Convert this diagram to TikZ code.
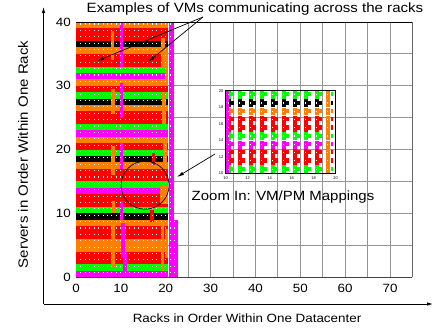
\documentclass[tikz,border=0pt]{standalone}
\usepackage{fontspec}
\setmainfont{Liberation Sans}
\usetikzlibrary{arrows.meta}
\definecolor{vmorange}{RGB}{255,128,0}
\definecolor{vmred}{RGB}{255,0,0}
\definecolor{vmgreen}{RGB}{0,255,0}
\definecolor{vmpink}{RGB}{255,0,255}
\definecolor{vmblack}{RGB}{0,0,0}
\newcommand{\fsz}[1]{\fontsize{#1}{#1}\selectfont}

\begin{document}
\begin{tikzpicture}[x=1bp,y=1bp,every node/.style={inner sep=0pt},lbl/.style={xscale=1.12},
  grid/.style={draw=black!42,line width=0.8bp},
  axis/.style={line width=0.8bp,-{Latex[length=6bp,width=3.5bp]}},
  pointer/.style={line width=0.7bp,-{Latex[length=7bp,width=3.5bp]}}]
  \useasboundingbox (0,0) rectangle (437,330);
  \begin{scope}[shift={(76,53)},x=4.486bp,y=6.375bp]
    \foreach \x in {5,10,...,70} \draw[grid] (\x,0) -- (\x,40);
    \foreach \y in {5,10,...,35} \draw[grid] (0,\y) -- (75,\y);
    \draw[black!75,line width=0.8bp] (0,0) -- (75,0);
    \draw[black!60,line width=0.9bp] (75,0) -- (75,40);
    \foreach \c [count=\r from 0] in {vmpink,vmgreen,vmred,vmred,vmorange,vmorange,vmred,vmred,vmorange,vmblack,
      vmgreen,vmred,vmred,vmpink,vmgreen,vmred,vmred,vmorange,vmblack,vmgreen,
      vmred,vmorange,vmpink,vmgreen,vmred,vmred,vmorange,vmblack,vmgreen,vmred,
      vmorange,vmpink,vmgreen,vmred,vmred,vmorange,vmblack,vmred,vmred,vmorange}
      \fill[\c] (0,\r) rectangle (20.6,\r+1);
    \fill[vmpink] (20.7,0) rectangle (21.9,40);
    \fill[vmpink] (21.9,0) rectangle (22.7,9);
    \foreach \a/\b/\e/\d in {9.7/33/10.4/40,9.7/25/10.4/30.5,9.7/17/10.4/21,9.8/9/10.4/12,10/3/10.9/8.5,10.4/0/11.4/4}
      \fill[vmpink] (\a,\b) rectangle (\e,\d);
    \foreach \a/\b/\e/\d in {7.7/34/8.5/38.6,19/33/19.8/37.5,19.9/30/20.6/35,7.8/25.5/8.6/29.5,19.2/24/20/29,
      7.9/16/8.7/20.5,19.3/17/20.3/21,7.9/1.5/8.7/8,19/1/19.7/9,19.9/3/20.6/7.5,18.8/11.5/20.6/14.5,8/10/8.6/12}
      \fill[vmorange] (\a,\b) rectangle (\e,\d);
    \foreach \a/\b/\e/\d in {16.9/17.6/17.6/19.5,16.6/8.6/17.3/10.5}
      \fill[vmred] (\a,\b) rectangle (\e,\d);
    \foreach \r in {0,...,39} \foreach \x in {1,...,22}
      \fill[white] (\x-0.09,\r+0.6) rectangle (\x+0.09,\r+0.78);
    \draw[black,line width=0.9bp] (0,40) -- (75,40);
    \node[circle,draw,line width=0.7bp,minimum size=48bp] (lens) at (15.4,14.4) {};
    \foreach \v in {0,10,...,70} \node[lbl,font=\fsz{12}] (xt\v) at (\v,-1.73) {\v};
    \foreach \v in {0,10,...,40} \node[lbl,font=\fsz{12},anchor=east] (yt\v) at (-1.1,\v) {\v};
  \end{scope}
  \begin{scope}[shift={(115.7,74.1)},x=11bp,y=8.26bp]
    \foreach \c [count=\r from 10] in {vmgreen,vmred,vmred,vmpink,vmgreen,vmred,vmred,vmorange,vmblack,vmgreen} {
      \foreach \i in {10,...,18} {
        \fill[\c] (\i+0.12,\r) rectangle (\i+0.48,\r+0.95);
        \fill[\c] (\i+0.5,\r+0.3) rectangle (\i+0.72,\r+0.8);
      }
      \fill[vmorange] (19.1,\r) rectangle (19.48,\r+0.95);
      \fill[\c] (19.55,\r+0.3) rectangle (19.75,\r+0.8);
    }
    \fill[vmpink] (10.05,10) rectangle (10.3,20);
    \foreach \i in {10,...,19} \foreach \r in {10,...,19}
      \fill[white] (\i+0.24,\r+0.45) rectangle (\i+0.31,\r+0.58);
    \draw[line width=0.6bp] (10,10) rectangle (20,20);
    \foreach \v in {10,12,...,20} \node[font=\fsz{4}] (ix\v) at (\v,9.45) {\v};
    \foreach \v in {10,12,...,20} \node[font=\fsz{4},anchor=east] (iy\v) at (9.8,\v) {\v};
  \end{scope}
  \coordinate (orig) at (43.5,26);
  \coordinate (ytop) at (43.5,323);
  \coordinate (xend) at (433,26);
  \draw[axis] (orig) -- (ytop);
  \draw[axis] (orig) -- (xend);
  \node[lbl,font=\fsz{13.5},anchor=base] (title) at (255,318) {Examples of VMs communicating across the racks};
  \node[lbl,font=\fsz{12},anchor=base] (xlabel) at (247,8) {Racks in Order Within One Datacenter};
  \node[rotate=90,lbl,font=\fsz{13.5}] (ylabel) at (23,175.5) {Servers in Order Within One Rack};
  \node[lbl,font=\fsz{13.4},anchor=base] (zoomlbl) at (283,129.3) {Zoom In: VM/PM Mappings};
  \coordinate (exsrc) at (203,313);
  \coordinate (exA) at (97,269);
  \coordinate (exB) at (148,268);
  \draw[pointer] (exsrc) -- (exA);
  \draw[pointer] (exsrc) -- (exB);
  \coordinate (zsrc) at (215,176);
  \coordinate (zdst) at (177,153);
  \draw[pointer] (zsrc) -- (zdst);
\end{tikzpicture}
\end{document}
